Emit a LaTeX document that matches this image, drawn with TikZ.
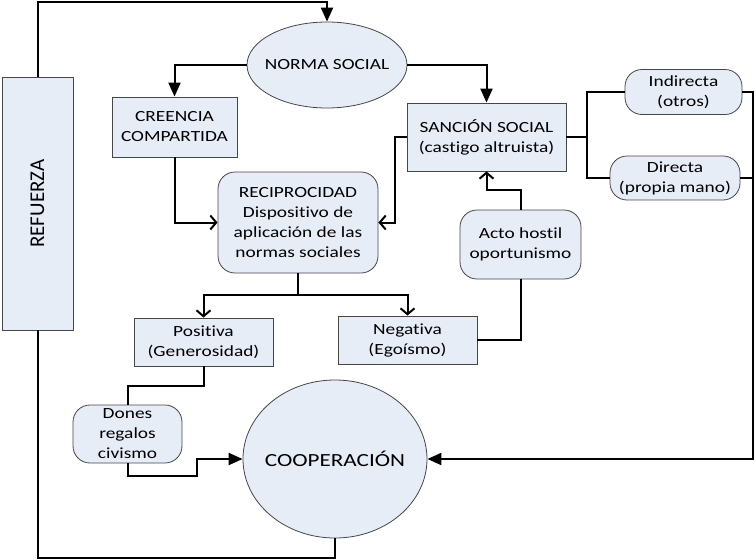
\documentclass[tikz,border=0pt]{standalone}
\usepackage{fontspec}
\setmainfont{Carlito}[FakeStretch = 1.25, Ligatures = NoCommon]
\newfontfamily\uprightfont{Carlito}
\usepackage{tikz}
\usetikzlibrary{arrows.meta, shapes.geometric}
\definecolor{boxfill}{RGB}{231, 237, 247}
\definecolor{boxline}{RGB}{70, 70, 70}
\tikzset{
  box/.style = {draw = boxline, line width = 0.8pt, fill = boxfill, inner sep = 0pt,
    align = center, font = \fontsize{15.5pt}{20pt}\selectfont},
  roundbox/.style = {box, rounded corners = 17pt},
  oval/.style = {box, ellipse},
  link/.style = {line width = 2pt},
  fat/.style = {-{Triangle[length = 14pt, width = 12pt]}},
  barb/.style = {-{Straight Barb[length = 6pt, width = 14pt]}}
}

\begin{document}
\begin{tikzpicture}[x = 1pt, y = -1pt]
\useasboundingbox (0,0) rectangle (756,560);
% nodes
\node[box, minimum width = 71pt, minimum height = 253pt] (refuerza) at (37.5, 203.5)
  {\uprightfont\fontsize{21pt}{24pt}\selectfont\rotatebox{90}{REFUERZA}};
\node[oval, minimum width = 160pt, minimum height = 86pt] (norma) at (327, 65) {\makebox[0pt]{NORMA SOCIAL}};
\node[box, minimum width = 125pt, minimum height = 60pt] (creencia) at (174.5, 127) {CREENCIA\\COMPARTIDA};
\node[roundbox, minimum width = 160pt, minimum height = 101pt] (recip) at (298, 222.5)
  {RECIPROCIDAD\\Dispositivo de\\aplicación de las\\normas sociales};
\node[box, minimum width = 159pt, minimum height = 68pt] (sancion) at (486.5, 137) {SANCIÓN SOCIAL\\(castigo altruista)};
\node[roundbox, minimum width = 117pt, minimum height = 45pt] (indirecta) at (683.5, 92) {Indirecta\\(otros)};
\node[roundbox, minimum width = 130pt, minimum height = 44pt] (directa) at (675, 178) {Directa\\(propia mano)};
\node[roundbox, minimum width = 121pt, minimum height = 69pt] (acto) at (520.5, 244.5) {Acto hostil\\oportunismo};
\node[box, minimum width = 139pt, minimum height = 48pt] (positiva) at (203.5, 342) {Positiva\\(Generosidad)};
\node[box, minimum width = 139pt, minimum height = 48pt] (negativa) at (407.5, 340) {Negativa\\(Egoísmo)};
\node[roundbox, minimum width = 109pt, minimum height = 58pt] (dones) at (127.5, 434) {Dones\\regalos\\civismo};
\node[oval, minimum width = 184pt, minimum height = 158pt, font = \fontsize{18.5pt}{22pt}\selectfont] (coop) at (335, 459)
  {\makebox[0pt]{COOPERACIÓN}};
% connectors
\draw[link, fat] (refuerza.north) -- ++(0,-75) -| (norma.north);
\draw[link, fat] (norma.west) -| (creencia.north);
\draw[link, fat] (norma.east) -| (sancion.north);
\draw[link, barb] (creencia.south) |- (recip.west);
\draw[link, barb] (sancion.west) -- ++(-12,0) |- (recip.east);
\draw[link, barb] (acto.north) -- ++(0,-20) -| (sancion.south);
\draw[link] (negativa.east) -| (acto.south);
\draw[link] (recip.south) -- ++(0,22) coordinate (split);
\draw[link, barb] (split) -| (positiva.north);
\draw[link, barb] (split) -| (negativa.north);
\draw[link] (positiva.south) -- ++(0,20) -| (dones.north);
\draw[link, fat] (dones.south) -- ++(0,13) -- ++(69,0) |- (coop.west);
\draw[link] (sancion.east) -- ++(21,0) coordinate (fork);
\draw[link] (fork) |- (indirecta.west);
\draw[link] (fork) |- (directa.west);
\draw[link, fat] (indirecta.east) -- ++(11,0) |- (coop.east);
\draw[link] (directa.east) -- ++(13,0);
\draw[link] (coop.south) -- ++(0,20) -| (refuerza.south);
\end{tikzpicture}
\end{document}
